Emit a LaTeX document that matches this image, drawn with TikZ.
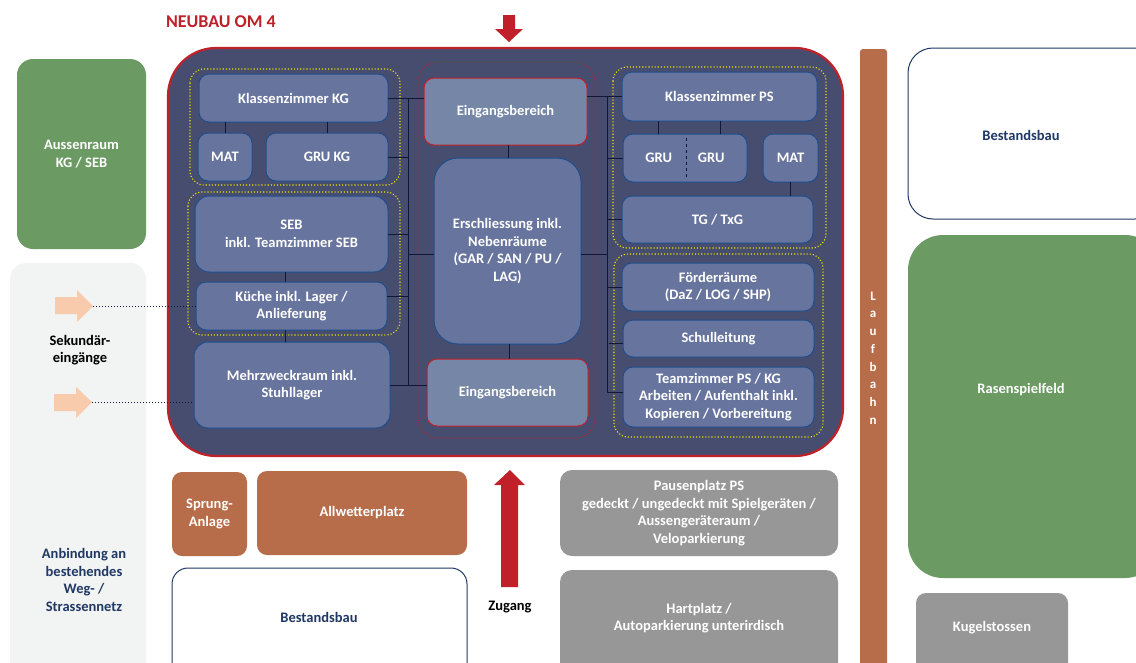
\documentclass[tikz,border=0pt]{standalone}
\usepackage{fontspec}
\setmainfont{Carlito}[BoldFont={Carlito Bold}]
\usetikzlibrary{calc}
\definecolor{mainbg}{RGB}{71,77,111}
\definecolor{boxfill}{RGB}{103,116,158}
\definecolor{boxline}{RGB}{31,78,140}
\definecolor{eingfill}{RGB}{117,134,166}
\definecolor{redc}{RGB}{192,32,42}
\definecolor{navy}{RGB}{15,25,55}
\definecolor{darkblue}{RGB}{31,56,100}
\definecolor{greenc}{RGB}{107,154,98}
\definecolor{brownc}{RGB}{184,109,74}
\definecolor{grayc}{RGB}{151,151,151}
\definecolor{panel}{RGB}{242,243,243}
\definecolor{peach}{RGB}{248,203,173}
\definecolor{yel}{RGB}{240,232,0}
\newcommand\bx[7]{\node[#6, minimum width={(#4-#2)*1pt}, minimum height={(#5-#3)*1pt}] (#1) at ({(#2+#4)/2},{(#3+#5)/2}) {#7};}
\tikzset{
  base/.style={inner sep=0pt, outer sep=0pt, align=center, font=\bfseries\fontsize{14.5}{17.5}\selectfont},
  room/.style={base, fill=boxfill, draw=boxline, line width=1pt, rounded corners=10pt, text=white},
  eing/.style={room, fill=eingfill, draw=redc},
  ygroup/.style={draw=yel, dotted, line width=1.1pt, rounded corners=14pt},
  rgroup/.style={draw=redc, dash pattern=on 1pt off 1pt, line width=0.7pt, rounded corners=20pt},
  conn/.style={draw=navy, line width=1pt},
  greenbox/.style={base, fill=greenc, text=white},
  brownbox/.style={base, fill=brownc, text=white, rounded corners=10pt},
  graybox/.style={base, fill=grayc, text=white, rounded corners=12pt},
  whitebox/.style={base, fill=white, draw=darkblue, line width=1pt, text=darkblue},
  plain/.style={base},
}
\begin{document}
\begin{tikzpicture}[x=1pt,y=-1pt]
\useasboundingbox (0,0) rectangle (1136,662);
\clip (0,0) rectangle (1136,662);
\fill[white] (0,0) rectangle (1136,662);
% title and top arrow
\node[plain, text=redc, font=\bfseries\fontsize{18}{20}\selectfont, anchor=west] (title) at (166,22) {NEUBAU OM 4};
\fill[redc] (503,15) -- (515,15) -- (515,29) -- (523,29) -- (509,42) -- (495,29) -- (503,29) -- cycle;
% main container
\bx{main}{168}{48}{843}{456}{base, fill=mainbg, draw=redc, line width=2.2pt, rounded corners=48pt}{}
% groups
\draw[ygroup] (190,69) rectangle (400,185);
\draw[ygroup] (188,192) rectangle (400,335);
\draw[ygroup] (613,67) rectangle (826,248);
\draw[ygroup] (614,254) rectangle (823,437);
\draw[rgroup] (418,62) rectangle (595,438);
% left rooms
\bx{kzkg}{199}{74}{388}{122}{room}{Klassenzimmer KG}
\bx{mat1}{198}{133}{252}{181}{room}{MAT}
\bx{grukg}{266}{133}{388}{181}{room}{GRU KG}
\bx{seb}{195}{196}{388}{272}{room, rounded corners=14pt}{SEB\\inkl. Teamzimmer SEB}
\bx{kueche}{196}{282}{387}{330}{room}{Küche inkl. Lager /\\Anlieferung}
\bx{mehr}{194}{342}{390}{428}{room, rounded corners=14pt}{Mehrzweckraum inkl.\\Stuhllager}
% center
\bx{eingT}{424}{78}{587}{145}{eing}{Eingangsbereich}
\bx{ersch}{434}{158}{581}{344}{room, rounded corners=24pt}{Erschliessung inkl.\\Nebenräume\\(GAR / SAN / PU /\\LAG)}
\bx{eingB}{427}{359}{588}{426}{eing}{Eingangsbereich}
% right rooms
\bx{kzps}{622}{72}{817}{121}{room}{Klassenzimmer PS}
\bx{gru}{623}{134}{747}{182}{room}{GRU\hspace{26pt}GRU}
\bx{mat2}{763}{134}{818}{182}{room}{MAT}
\bx{tg}{622}{196}{813}{243}{room}{TG / TxG}
\bx{foerd}{622}{263}{814}{311}{room}{Förderräume\\(DaZ / LOG / SHP)}
\bx{schul}{623}{320}{814}{357}{room}{Schulleitung}
\bx{team}{623}{367}{814}{427}{room}{Teamzimmer PS / KG\\Arbeiten / Aufenthalt inkl.\\Kopieren / Vorbereitung}
\draw[navy, dashed, line width=1pt] ($(gru.north)+(1,4)$) -- ($(gru.south)+(1,-4)$);
% buses
\coordinate (bLt) at (408,98);
\coordinate (bLb) at (408,386);
\coordinate (bRt) at (607,96.5);
\coordinate (bRb) at (607,392);
\draw[conn] (bLt) -- (bLb);
\draw[conn] (bRt) -- (bRb);
\draw[conn] (kzkg.east) -- (eingT.west |- kzkg.east);
\draw[conn] (grukg.east) -- (bLt |- grukg.east);
\draw[conn] (seb.east) -- (bLt |- seb.east);
\draw[conn] ($(ersch.west)+(0,3)$) -- ($(bLt |- ersch.west)+(0,3)$);
\draw[conn] ($(kueche.east)+(0,-10)$) -- ($(bLt |- kueche.east)+(0,-10)$);
\draw[conn] (mehr.east) -- (eingB.west |- mehr.east);
\draw[conn] (mat1.north) -- (mat1.north |- kzkg.south);
\draw[conn] (grukg.north) -- (grukg.north |- kzkg.south);
\draw[conn] ($(seb.south)+(-6,0)$) -- ($(seb.south |- kueche.north)+(-6,0)$);
\draw[conn] ($(kueche.south)+(-6,0)$) -- ($(kueche.south |- mehr.north)+(-6,0)$);
\draw[conn] ($(eingT.south)+(3,0)$) -- ($(eingT.south |- ersch.north)+(3,0)$);
\draw[conn] ($(ersch.south)+(2,0)$) -- ($(ersch.south |- eingB.north)+(2,0)$);
\draw[conn] (kzps.west) -- (eingT.east |- kzps.west);
\draw[conn] (gru.west) -- (bRt |- gru.west);
\draw[conn] (tg.west) -- (bRt |- tg.west);
\draw[conn] ($(ersch.east)+(0,3)$) -- ($(bRt |- ersch.east)+(0,3)$);
\draw[conn] (foerd.west) -- (bRt |- foerd.west);
\draw[conn] ($(schul.west)+(0,5)$) -- ($(bRt |- schul.west)+(2,5)$);
\draw[conn] ($(team.west)+(0,-5)$) -- ($(bRt |- team.west)+(0,-5)$);
\draw[conn] ($(gru.north)+(-27,0)$) -- ($(gru.north |- kzps.south)+(-27,0)$);
\draw[conn] ($(gru.north)+(35,0)$) -- ($(gru.north |- kzps.south)+(35,0)$);
\draw[conn] (mat2.south) -- (mat2.south |- tg.north);
% left side
\bx{aussen}{17}{59}{146}{249}{greenbox, rounded corners=16pt}{Aussenraum\\KG / SEB}
\bx{panel}{10}{263}{146}{690}{base, fill=panel, rounded corners=16pt}{}
\fill[peach] (55,297) -- (77,297) -- (77,290) -- (93,306) -- (77,322) -- (77,314) -- (55,314) -- cycle;
\fill[peach] (54,394) -- (76,394) -- (76,387) -- (92,402) -- (76,418) -- (76,411) -- (54,411) -- cycle;
\coordinate (a1) at (93,306);
\coordinate (a2) at (92,402);
\draw[navy, dotted, line width=1pt] (a1) -- (kueche.west |- a1);
\draw[navy, dotted, line width=1pt] (a2) -- (mehr.west |- a2);
\node[plain, text=black] (sek) at (80,350) {Sekundär-\\eingänge};
\node[plain, text=darkblue] (anb) at (84,580) {Anbindung an\\bestehendes\\Weg- /\\Strassennetz};
% bottom
\bx{sprung}{172}{472}{247}{556}{brownbox}{Sprung-\\Anlage}
\bx{allw}{257}{471}{467}{555}{brownbox}{Allwetterplatz}
\bx{best1}{172}{568}{467}{690}{whitebox, rounded corners=16pt}{}
\node[plain, text=darkblue] (best1t) at (319,617) {Bestandsbau};
\fill[redc] (501,587) -- (518,587) -- (518,485) -- (525,485) -- (510,470) -- (494,485) -- (501,485) -- cycle;
\node[plain, text=black] (zug) at (510,607) {Zugang};
\bx{pause}{560}{470}{838}{556}{graybox}{Pausenplatz PS\\gedeckt / ungedeckt mit Spielgeräten /\\Aussengeräteraum /\\Veloparkierung}
\bx{hart}{560}{570}{838}{690}{graybox}{}
\node[plain, text=white] (hartt) at (699,618) {Hartplatz /\\Autoparkierung unterirdisch};
% right side
\bx{lauf}{860}{49}{887}{700}{base, fill=brownc, rounded corners=3pt}{}
\node[base, text=white, font=\bfseries\fontsize{13}{17.7}\selectfont] (laufT) at (873,358) {L\\a\\u\\f\\b\\a\\h\\n};
\bx{best2}{908}{48}{1160}{219}{whitebox, rounded corners=25pt}{}
\node[plain, text=darkblue] (best2t) at (1021,135) {Bestandsbau};
\bx{rasen}{908}{235}{1160}{578}{greenbox, rounded corners=35pt}{}
\node[plain, text=white] (rasent) at (1021,390) {Rasenspielfeld};
\bx{kugel}{916}{593}{1068}{690}{graybox, rounded corners=10pt}{}
\node[plain, text=white] (kugelt) at (992,628) {Kugelstossen};
\end{tikzpicture}
\end{document}
